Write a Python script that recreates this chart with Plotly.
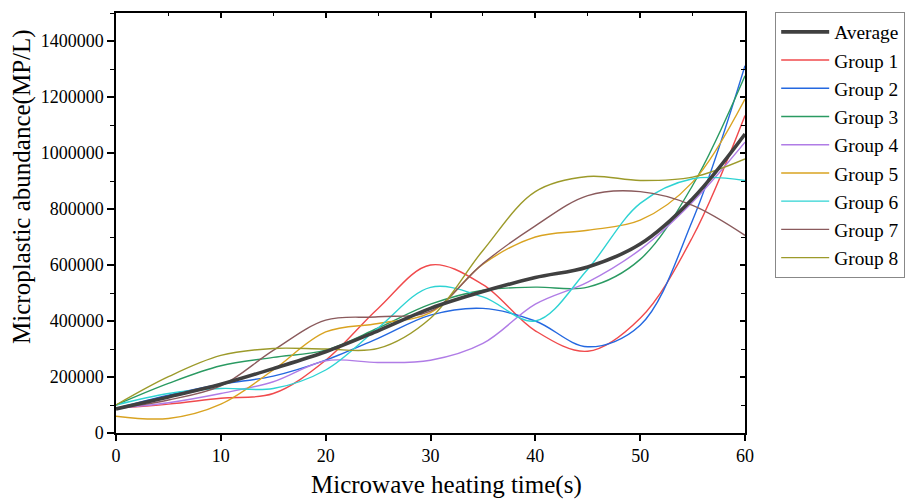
import plotly.graph_objects as go

time_s = [0, 5, 10, 15, 20, 25, 30, 35, 40, 45, 50, 55, 60]

average = [86000, 129000, 174000, 230000, 290000, 365000, 445000, 505000, 555000, 593000, 675000, 837000, 1068000]
group1 = [88000, 103000, 124000, 141000, 260000, 445000, 600000, 530000, 365000, 292000, 410000, 700000, 1134000]
group2 = [88000, 135000, 174000, 203000, 260000, 338000, 421000, 445000, 400000, 308000, 385000, 760000, 1312000]
group3 = [100000, 177000, 240000, 270000, 296000, 375000, 460000, 510000, 521000, 521000, 620000, 884000, 1276000]
group4 = [88000, 108000, 141000, 183000, 258000, 252000, 260000, 320000, 460000, 539000, 655000, 825000, 1039000]
group5 = [60000, 52000, 103000, 225000, 361000, 391000, 430000, 603000, 700000, 724000, 760000, 896000, 1193000]
group6 = [100000, 141000, 159000, 159000, 225000, 375000, 520000, 486000, 400000, 585000, 820000, 908000, 902000]
group7 = [88000, 118000, 168000, 295000, 403000, 415000, 435000, 605000, 740000, 848000, 862000, 813000, 706000]
group8 = [100000, 201000, 277000, 302000, 300000, 302000, 410000, 652000, 862000, 916000, 902000, 914000, 979000]

group_names = ["Group 1", "Group 2", "Group 3", "Group 4", "Group 5", "Group 6", "Group 7", "Group 8"]
group_values = [group1, group2, group3, group4, group5, group6, group7, group8]
group_colors = ["#F04A4C", "#2468E0", "#2A9A62", "#B07CE6", "#D9A321", "#2ED3D3", "#8A5A5C", "#9C9A2A"]

x_ticks = [0, 10, 20, 30, 40, 50, 60]
y_ticks = [0, 200000, 400000, 600000, 800000, 1000000, 1200000, 1400000]
x_title = "Microwave heating time(s)"
y_title = "Microplastic abundance(MP/L)"

FONT = "Liberation Serif, Times New Roman, serif"

fig = go.Figure()

for i, (name, vals, col) in enumerate(zip(group_names, group_values, group_colors)):
    fig.add_trace(go.Scatter(
        x=time_s, y=vals, name=name, mode="lines",
        line=dict(color=col, width=1.4, shape="spline", smoothing=1.0),
        legendrank=i + 2,
    ))

fig.add_trace(go.Scatter(
    x=time_s, y=average, name="Average", mode="lines",
    line=dict(color="#404040", width=3.6, shape="spline", smoothing=1.0),
    legendrank=1,
))

axis_common = dict(showline=True, linecolor="black", linewidth=1.5, showgrid=False,
                   zeroline=False, automargin=False)

fig.update_layout(
    width=912, height=500,
    margin=dict(l=116, r=167, t=13, b=67, autoexpand=False),
    paper_bgcolor="white", plot_bgcolor="white",
    font=dict(family=FONT, color="black", size=18),
    xaxis=dict(
        range=[0, 60], tickvals=x_ticks, ticks="outside", ticklen=6, tickwidth=1.5,
        tickcolor="black", tickfont=dict(size=18),
        **axis_common,
    ),
    yaxis=dict(
        range=[0, 1500000], tickvals=y_ticks, tickformat="d", ticks="outside", ticklen=7,
        tickwidth=1.5, tickcolor="black", tickfont=dict(size=18),
        minor=dict(dtick=100000, ticks="outside", ticklen=4, tickwidth=1.2, tickcolor="black"),
        **axis_common,
    ),
    xaxis2=dict(
        range=[0, 60], overlaying="x", side="top", anchor="y", tickvals=x_ticks,
        ticks="inside", ticklen=5, tickwidth=1.5, tickcolor="black", showticklabels=False,
        minor=dict(dtick=5, ticks="inside", ticklen=3, tickwidth=1.2, tickcolor="black"),
        **axis_common,
    ),
    yaxis2=dict(
        range=[0, 1500000], overlaying="y", side="right", anchor="x", tickvals=y_ticks,
        ticks="inside", ticklen=5, tickwidth=1.5, tickcolor="black", showticklabels=False,
        minor=dict(dtick=100000, ticks="inside", ticklen=4, tickwidth=1.2, tickcolor="black"),
        **axis_common,
    ),
    legend=dict(
        x=1.048, y=1.003, xanchor="left", yanchor="top",
        font=dict(size=19.4, family=FONT), bordercolor="#888888", borderwidth=1,
        bgcolor="white", tracegroupgap=0, maxheight=490, itemwidth=48,
    ),
    showlegend=True,
    annotations=[
        dict(text=x_title, xref="paper", yref="paper", x=0.526, y=-0.124,
             xanchor="center", yanchor="middle", showarrow=False,
             font=dict(size=25, family=FONT, color="black")),
        dict(text=y_title, xref="paper", yref="paper", x=-0.1494, y=0.586,
             xanchor="center", yanchor="middle", showarrow=False, textangle=-90,
             font=dict(size=25, family=FONT, color="black")),
    ],
)

# invisible trace to activate secondary axes
fig.add_trace(go.Scatter(x=[0], y=[0], xaxis="x2", yaxis="y2", mode="markers",
                         marker=dict(opacity=0), showlegend=False, hoverinfo="skip"))

fig.write_html("out.html")
